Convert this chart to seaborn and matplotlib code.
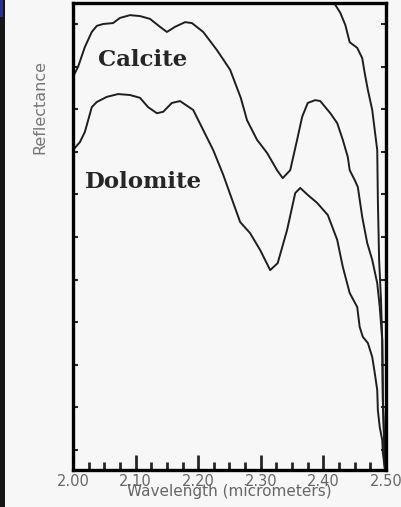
import numpy as np
import pandas as pd
import matplotlib
matplotlib.use("Agg")
import matplotlib.pyplot as plt
from matplotlib.patches import Rectangle
import seaborn as sns

# Wavelength (micrometers) and relative reflectance for each spectrum
calcite_wl = [2.000, 2.008, 2.019, 2.030, 2.038, 2.048, 2.064, 2.075, 2.091, 2.107,
              2.123, 2.139, 2.150, 2.163, 2.179, 2.190, 2.208, 2.230, 2.251, 2.268,
              2.278, 2.294, 2.310, 2.326, 2.335, 2.347, 2.358, 2.366, 2.375, 2.387,
              2.395, 2.411, 2.422, 2.431, 2.439, 2.442, 2.450, 2.455, 2.462, 2.470,
              2.478, 2.486, 2.490, 2.494, 2.495, 2.497, 2.498]
calcite_refl = [0.842, 0.863, 0.906, 0.938, 0.951, 0.955, 0.957, 0.968, 0.974, 0.972,
                0.966, 0.949, 0.938, 0.949, 0.959, 0.957, 0.938, 0.899, 0.857, 0.797,
                0.749, 0.707, 0.679, 0.642, 0.625, 0.642, 0.707, 0.756, 0.786, 0.792,
                0.790, 0.764, 0.743, 0.707, 0.670, 0.642, 0.621, 0.606, 0.542, 0.486,
                0.450, 0.400, 0.349, 0.278, 0.150, 0.064, 0.011]

dolomite_wl = [2.000, 2.011, 2.019, 2.030, 2.038, 2.054, 2.072, 2.091, 2.107, 2.120,
               2.134, 2.144, 2.158, 2.171, 2.192, 2.208, 2.224, 2.240, 2.256, 2.267,
               2.283, 2.299, 2.315, 2.327, 2.342, 2.355, 2.363, 2.375, 2.390, 2.407,
               2.422, 2.431, 2.442, 2.454, 2.458, 2.463, 2.471, 2.478, 2.482, 2.486,
               2.487, 2.490, 2.494, 2.495, 2.498]
dolomite_refl = [0.685, 0.702, 0.724, 0.777, 0.788, 0.799, 0.805, 0.803, 0.797, 0.777,
                 0.764, 0.767, 0.786, 0.790, 0.771, 0.728, 0.685, 0.632, 0.572, 0.531,
                 0.507, 0.471, 0.428, 0.443, 0.514, 0.593, 0.604, 0.589, 0.572, 0.546,
                 0.493, 0.435, 0.379, 0.349, 0.306, 0.285, 0.272, 0.242, 0.208, 0.171,
                 0.128, 0.092, 0.064, 0.036, 0.004]

upper_wl = [2.414, 2.419, 2.427, 2.435, 2.442, 2.454, 2.462, 2.466, 2.471, 2.478,
            2.482, 2.486, 2.487, 2.489, 2.492, 2.494, 2.495, 2.497, 2.498]
upper_refl = [1.013, 0.996, 0.979, 0.953, 0.916, 0.904, 0.882, 0.850, 0.814, 0.771,
              0.728, 0.685, 0.578, 0.450, 0.364, 0.278, 0.150, 0.064, 0.004]

x_ticks = [2.00, 2.10, 2.20, 2.30, 2.40, 2.50]
x_tick_labels = ["2.00", "2.10", "2.20", "2.30", "2.40", "2.50"]

bg = "#f7f7f7"
sns.set_style("ticks")
plt.rcParams["font.family"] = ["DejaVu Sans"]

fig = plt.figure(figsize=(4.01, 5.07), dpi=100, facecolor=bg)
ax = fig.add_axes([73 / 401, 1 - 470 / 507, 313 / 401, 467 / 507])
ax.set_facecolor(bg)

# dark window border on the far left
fig.patches.append(Rectangle((0, 0), 5 / 401, 1, transform=fig.transFigure,
                             facecolor="#151515", edgecolor="none", zorder=0))
fig.patches.append(Rectangle((0, 1 - 17 / 507), 3 / 401, 17 / 507, transform=fig.transFigure,
                             facecolor="#2b2f9a", edgecolor="none", zorder=1))

line_kw = dict(color="#1e1e1e", linewidth=1.4, estimator=None, sort=False, ax=ax)
for wl, refl in [(calcite_wl, calcite_refl), (dolomite_wl, dolomite_refl), (upper_wl, upper_refl)]:
    df = pd.DataFrame({"wavelength": wl, "reflectance": refl})
    sns.lineplot(data=df, x="wavelength", y="reflectance", **line_kw)

ax.set_xlim(2.0, 2.5)
ax.set_ylim(0, 1)

for s in ax.spines.values():
    s.set_visible(True)
    s.set_linewidth(2.4)
    s.set_color("black")

ax.set_xticks(x_ticks)
ax.set_xticklabels(x_tick_labels)
ax.set_xticks(np.arange(2.0, 2.5001, 0.025), minor=True)
ax.set_yticks(np.linspace(0.043, 0.955, 11))
ax.set_yticklabels([])
ax.tick_params(axis="x", which="major", direction="in", length=11, width=2.0,
               labelsize=10.5, labelcolor="#666666", pad=3, top=False)
ax.tick_params(axis="x", which="minor", direction="in", length=6, width=2.0, top=False)
ax.tick_params(axis="y", which="major", direction="in", length=3.5, width=1.5,
               left=True, right=True)

ax.set_xlabel("Wavelength (micrometers)", fontsize=11, color="#666666", labelpad=-4)
ax.set_ylabel("")
fig.text(40 / 401, 1 - 107 / 507, "Reflectance", rotation=90, ha="center", va="center",
         fontsize=11.5, color="#777777")

ax.text(0.080, 0.878, "Calcite", transform=ax.transAxes, fontsize=16.5, fontweight="bold",
        family="DejaVu Serif", color="#262626", va="center", ha="left")
ax.text(0.038, 0.617, "Dolomite", transform=ax.transAxes, fontsize=16.5, fontweight="bold",
        family="DejaVu Serif", color="#262626", va="center", ha="left")

fig.savefig("out.png", dpi=100, facecolor=bg)
